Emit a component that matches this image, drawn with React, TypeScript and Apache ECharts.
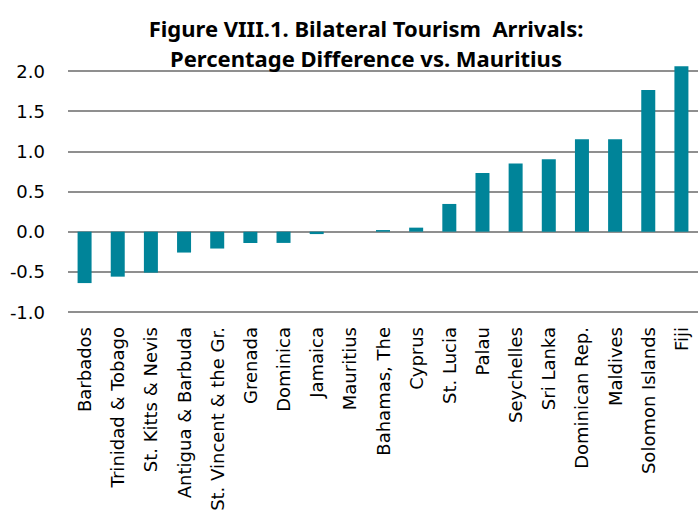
import React, { useEffect, useRef } from "react";
import * as echarts from "echarts";

const categories = [
  "Barbados",
  "Trinidad & Tobago",
  "St. Kitts & Nevis",
  "Antigua & Barbuda",
  "St. Vincent & the Gr.",
  "Grenada",
  "Dominica",
  "Jamaica",
  "Mauritius",
  "Bahamas, The",
  "Cyprus",
  "St. Lucia",
  "Palau",
  "Seychelles",
  "Sri Lanka",
  "Dominican Rep.",
  "Maldives",
  "Solomon Islands",
  "Fiji",
];

const values = [
  -0.64, -0.56, -0.51, -0.26, -0.21, -0.14, -0.14, -0.03, 0, 0.02, 0.05,
  0.345, 0.73, 0.85, 0.9, 1.15, 1.15, 1.765, 2.06,
];

const titleLines = [
  "Figure VIII.1. Bilateral Tourism  Arrivals:",
  "Percentage Difference vs. Mauritius",
];

export default function App() {
  const ref = useRef<HTMLDivElement>(null);
  useEffect(() => {
    if (!ref.current) return;
    const chart = echarts.init(ref.current, undefined, { renderer: "svg" });
    chart.setOption({
      animation: false,
      backgroundColor: "#ffffff",
      title: {
        text: titleLines.join("\n"),
        left: 361,
        textAlign: "center",
        top: 8,
        textStyle: {
          fontFamily: "Noto Sans",
          fontWeight: "bold",
          fontSize: 22,
          lineHeight: 30,
          color: "#000000",
        },
      },
      grid: { left: 68, top: 71, width: 634, height: 241 },
      xAxis: {
        type: "category",
        data: categories,
        axisLine: { show: false },
        axisTick: { show: false },
        splitLine: { show: false },
        axisLabel: {
          interval: 0,
          rotate: 90,
          margin: 15,
          fontFamily: "DejaVu Sans",
          fontSize: 18,
          color: "#000000",
        },
      },
      yAxis: {
        type: "value",
        min: -1,
        max: 2,
        interval: 0.5,
        axisLine: { show: false },
        axisTick: { show: false },
        splitLine: { lineStyle: { color: "#8f8f8f", width: 2 } },
        axisLabel: {
          margin: 23,
          fontFamily: "DejaVu Sans",
          fontSize: 18,
          color: "#000000",
          formatter: (v: number) => v.toFixed(1),
        },
      },
      series: [
        {
          type: "bar",
          data: values,
          barWidth: 14,
          clip: false,
          itemStyle: { color: "#008499" },
        },
      ],
    });
    return () => chart.dispose();
  }, []);
  return (
    <div
      ref={ref}
      style={{ position: "fixed", left: 0, top: 0, width: 698, height: 522 }}
    />
  );
}
